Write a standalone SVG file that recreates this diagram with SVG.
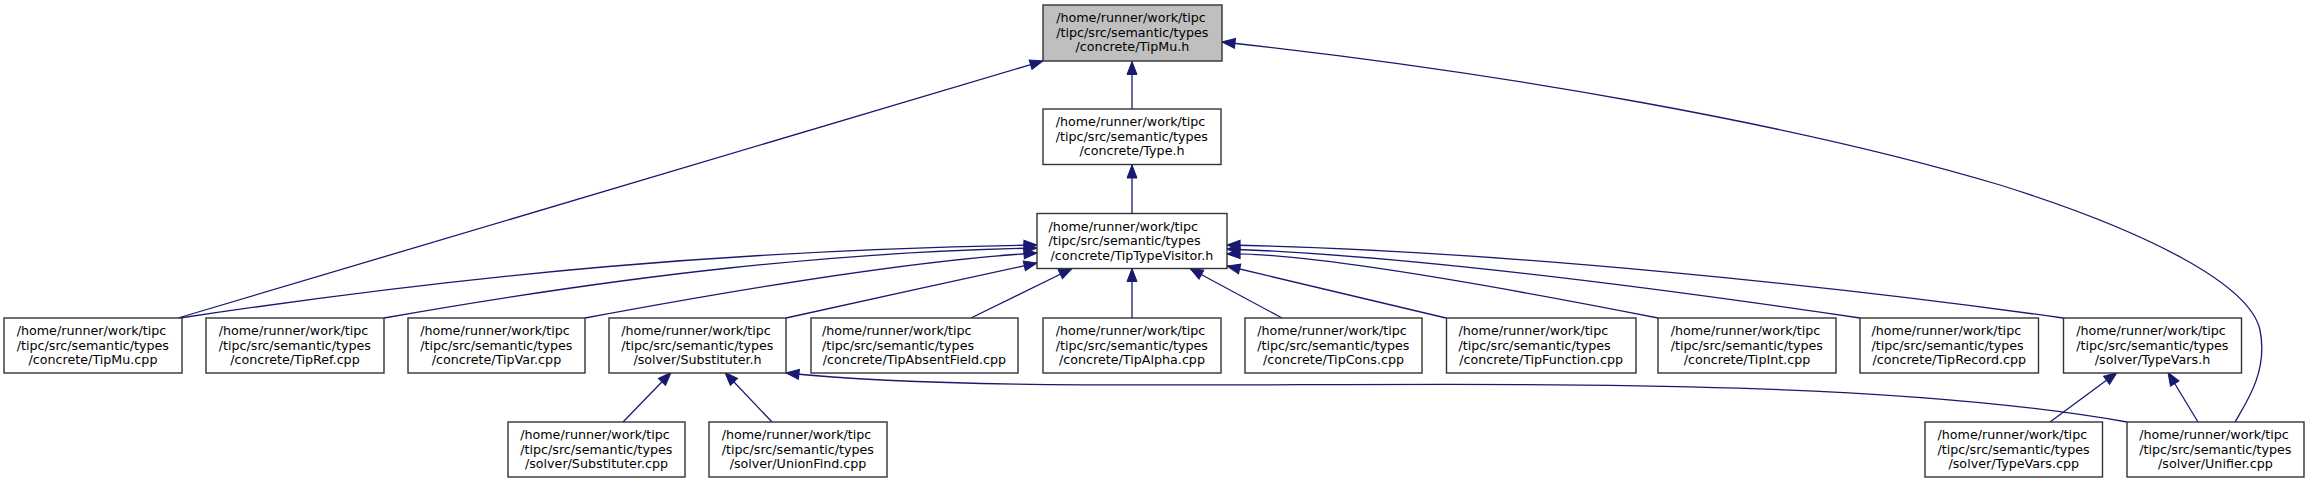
<svg xmlns="http://www.w3.org/2000/svg" width="2309" height="483" viewBox="0 0 2309 483">
<style>
.node rect{fill:#ffffff;stroke:#333333;stroke-width:1.4}
.node text{font-family:"DejaVu Sans",sans-serif;font-size:12.7px;fill:#000000}
.node .c{text-anchor:middle}
.edge path{fill:none;stroke:#191970;stroke-width:1.3}
</style>
<defs>
<marker id="ah" markerUnits="userSpaceOnUse" markerWidth="16" markerHeight="14" viewBox="-1 -7 16 14" refX="13" refY="0" orient="auto" overflow="visible">
<path d="M0,-5 L13,0 L0,5 Z" fill="#191970" stroke="#191970" stroke-width="1"/>
</marker>
</defs>
<rect x="0" y="0" width="2309" height="483" fill="#ffffff"/>
<g id="edges" class="edge">
<path marker-end="url(#ah)" d="M1132,109 L1132,61.5"/>
<path marker-end="url(#ah)" d="M1132,213.5 L1132,165"/>
<path marker-end="url(#ah)" d="M178,318 L1043,61"/>
<path marker-end="url(#ah)" d="M2235,422 C2248,400 2268,370 2260,330 C2250,285 2150,232 2000,185 C1800,125 1500,72 1222,42"/>
<path marker-end="url(#ah)" d="M180,318 C480,273 737,250 1037,245"/>
<path marker-end="url(#ah)" d="M384,318 C634,274 837,252 1037,248"/>
<path marker-end="url(#ah)" d="M585,318 C735,290 917,260 1037,253"/>
<path marker-end="url(#ah)" d="M786,318 C860,301 960,280 1037,263"/>
<path marker-end="url(#ah)" d="M971,318 L1072,268.5"/>
<path marker-end="url(#ah)" d="M1132,318 L1132,268.5"/>
<path marker-end="url(#ah)" d="M1282,318 L1190,268.5"/>
<path marker-end="url(#ah)" d="M1446,318 L1227,266"/>
<path marker-end="url(#ah)" d="M1658,318 C1480,283 1300,252 1227,254"/>
<path marker-end="url(#ah)" d="M1860,318 C1650,287 1400,255 1227,249"/>
<path marker-end="url(#ah)" d="M2063,318 C1850,288 1500,250 1227,245"/>
<path marker-end="url(#ah)" d="M623,422 L671,372.5"/>
<path marker-end="url(#ah)" d="M772,422 L725,372.5"/>
<path marker-end="url(#ah)" d="M2127,422 C1750,355 1100,405 786,373"/>
<path marker-end="url(#ah)" d="M2050,422 L2117,372.5"/>
<path marker-end="url(#ah)" d="M2198,422 L2168,372.5"/>
</g>
<g id="n_TipMu_h" class="node">
<rect x="1043" y="5" width="179" height="56" style="fill:#bfbfbf"/>
<text x="1056.2" y="22.2">/home/runner/work/tipc</text>
<text x="1056.2" y="36.6">/tipc/src/semantic/types</text>
<text class="c" x="1132.5" y="51">/concrete/TipMu.h</text>
</g>
<g id="n_Type_h" class="node">
<rect x="1043" y="109" width="178" height="55.5"/>
<text x="1055.7" y="126.2">/home/runner/work/tipc</text>
<text x="1055.7" y="140.6">/tipc/src/semantic/types</text>
<text class="c" x="1132" y="155">/concrete/Type.h</text>
</g>
<g id="n_TipTypeVisitor_h" class="node">
<rect x="1037" y="213.5" width="190" height="55"/>
<text x="1048.4" y="230.7">/home/runner/work/tipc</text>
<text x="1048.4" y="245.1">/tipc/src/semantic/types</text>
<text class="c" x="1132" y="259.5">/concrete/TipTypeVisitor.h</text>
</g>
<g id="n_TipMu_cpp" class="node">
<rect x="4" y="318" width="178" height="55"/>
<text x="16.7" y="335.2">/home/runner/work/tipc</text>
<text x="16.7" y="349.6">/tipc/src/semantic/types</text>
<text class="c" x="93" y="364">/concrete/TipMu.cpp</text>
</g>
<g id="n_TipRef_cpp" class="node">
<rect x="206" y="318" width="178" height="55"/>
<text x="218.7" y="335.2">/home/runner/work/tipc</text>
<text x="218.7" y="349.6">/tipc/src/semantic/types</text>
<text class="c" x="295" y="364">/concrete/TipRef.cpp</text>
</g>
<g id="n_TipVar_cpp" class="node">
<rect x="408" y="318" width="177" height="55"/>
<text x="420.2" y="335.2">/home/runner/work/tipc</text>
<text x="420.2" y="349.6">/tipc/src/semantic/types</text>
<text class="c" x="496.5" y="364">/concrete/TipVar.cpp</text>
</g>
<g id="n_Substituter_h" class="node">
<rect x="609" y="318" width="177" height="55"/>
<text x="621.2" y="335.2">/home/runner/work/tipc</text>
<text x="621.2" y="349.6">/tipc/src/semantic/types</text>
<text class="c" x="697.5" y="364">/solver/Substituter.h</text>
</g>
<g id="n_TipAbsentField_cpp" class="node">
<rect x="811" y="318" width="207" height="55"/>
<text x="821.9" y="335.2">/home/runner/work/tipc</text>
<text x="821.9" y="349.6">/tipc/src/semantic/types</text>
<text class="c" x="914.5" y="364">/concrete/TipAbsentField.cpp</text>
</g>
<g id="n_TipAlpha_cpp" class="node">
<rect x="1043" y="318" width="178" height="55"/>
<text x="1055.7" y="335.2">/home/runner/work/tipc</text>
<text x="1055.7" y="349.6">/tipc/src/semantic/types</text>
<text class="c" x="1132" y="364">/concrete/TipAlpha.cpp</text>
</g>
<g id="n_TipCons_cpp" class="node">
<rect x="1245" y="318" width="177" height="55"/>
<text x="1257.2" y="335.2">/home/runner/work/tipc</text>
<text x="1257.2" y="349.6">/tipc/src/semantic/types</text>
<text class="c" x="1333.5" y="364">/concrete/TipCons.cpp</text>
</g>
<g id="n_TipFunction_cpp" class="node">
<rect x="1446.5" y="318" width="189.5" height="55"/>
<text x="1458.5" y="335.2">/home/runner/work/tipc</text>
<text x="1458.5" y="349.6">/tipc/src/semantic/types</text>
<text class="c" x="1541.25" y="364">/concrete/TipFunction.cpp</text>
</g>
<g id="n_TipInt_cpp" class="node">
<rect x="1658" y="318" width="178" height="55"/>
<text x="1670.7" y="335.2">/home/runner/work/tipc</text>
<text x="1670.7" y="349.6">/tipc/src/semantic/types</text>
<text class="c" x="1747" y="364">/concrete/TipInt.cpp</text>
</g>
<g id="n_TipRecord_cpp" class="node">
<rect x="1860" y="318" width="178.5" height="55"/>
<text x="1871.5" y="335.2">/home/runner/work/tipc</text>
<text x="1871.5" y="349.6">/tipc/src/semantic/types</text>
<text class="c" x="1949.25" y="364">/concrete/TipRecord.cpp</text>
</g>
<g id="n_TypeVars_h" class="node">
<rect x="2063.5" y="318" width="178" height="55"/>
<text x="2076.2" y="335.2">/home/runner/work/tipc</text>
<text x="2076.2" y="349.6">/tipc/src/semantic/types</text>
<text class="c" x="2152.5" y="364">/solver/TypeVars.h</text>
</g>
<g id="n_Substituter_cpp" class="node">
<rect x="508" y="422" width="177" height="55"/>
<text x="520.2" y="439.2">/home/runner/work/tipc</text>
<text x="520.2" y="453.6">/tipc/src/semantic/types</text>
<text class="c" x="596.5" y="468">/solver/Substituter.cpp</text>
</g>
<g id="n_UnionFind_cpp" class="node">
<rect x="709" y="422" width="178" height="55"/>
<text x="721.7" y="439.2">/home/runner/work/tipc</text>
<text x="721.7" y="453.6">/tipc/src/semantic/types</text>
<text class="c" x="798" y="468">/solver/UnionFind.cpp</text>
</g>
<g id="n_TypeVars_cpp" class="node">
<rect x="1925" y="422" width="177.5" height="55"/>
<text x="1937.5" y="439.2">/home/runner/work/tipc</text>
<text x="1937.5" y="453.6">/tipc/src/semantic/types</text>
<text class="c" x="2013.75" y="468">/solver/TypeVars.cpp</text>
</g>
<g id="n_Unifier_cpp" class="node">
<rect x="2127" y="422" width="177" height="55"/>
<text x="2139.2" y="439.2">/home/runner/work/tipc</text>
<text x="2139.2" y="453.6">/tipc/src/semantic/types</text>
<text class="c" x="2215.5" y="468">/solver/Unifier.cpp</text>
</g>
</svg>
